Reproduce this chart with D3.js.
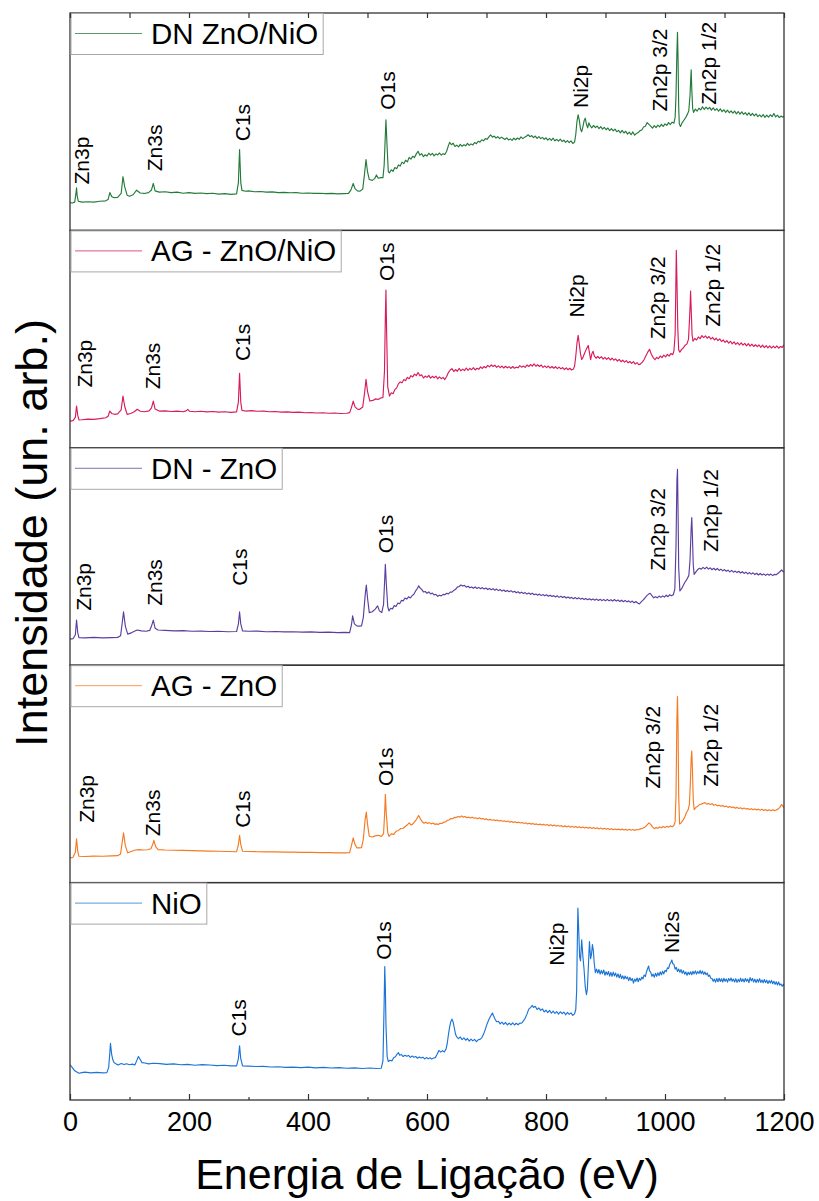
<!DOCTYPE html>
<html><head><meta charset="utf-8">
<script src="https://cdn.jsdelivr.net/npm/d3@7"></script>
<style>html,body{margin:0;padding:0;background:#fff;}svg{display:block;font-family:"Liberation Sans",Arial,sans-serif;}</style>
</head><body>
<svg id="chart" width="819" height="1201"></svg>
<script>
// ---------- DATA ----------
const seriesNames = ["DN ZnO/NiO", "AG - ZnO/NiO", "DN - ZnO", "AG - ZnO", "NiO"];
const seriesColors = ["#237a3b", "#d81b5a", "#5b3f9f", "#f57a22", "#1b74d6"];
const xTicks = [0, 200, 400, 600, 800, 1000, 1200];
const xMinorTicks = [100, 300, 500, 700, 900, 1100];

const dnZnONiO = [[0,12.8],[4,12.6],[8,13.0],[10,17],[11,19.6],[12,16],[14,13.4],[20,13.0],[30,13.2],[40,13.0],[50,13.4],[60,13.6],[64,14.2],[67,17.4],[70,15.6],[74,15.0],[80,15.2],[86,17],[89,24.7],[92,20],[96,16.2],[100,15.7],[106,16.4],[112,18.5],[118,17.2],[125,17.0],[132,17.4],[137,18.6],[140,21.6],[143,18.2],[150,17.6],[160,17.8],[170,17.4],[180,17.6],[190,17.1],[200,17.4],[210,17.0],[220,17.2],[230,16.9],[240,17.1],[250,16.7],[260,16.9],[270,16.6],[280,16.8],[283,22],[285,37.2],[287,22],[289,18.4],[295,18.0],[300,18.2],[310,17.8],[320,17.9],[330,17.6],[340,17.7],[350,17.4],[360,17.5],[370,17.3],[380,17.4],[390,17.1],[400,17.2],[410,17.0],[420,17.1],[430,16.9],[440,17.0],[450,16.8],[460,16.9],[468,17.0],[472,18.5],[476,21.6],[479,19.2],[483,18.2],[487,18.0],[492,19],[495,26],[497.5,32.6],[500,27],[503,23.4],[508,23.0],[512,23.8],[515,25.5],[518,24.0],[522,24.3],[526,24.3],[528,30],[531,50.9],[533,38],[535,27],
[537,26.5],[540,27.9],[543,27.2],[546,28.9],[549,28.4],[552,30.1],[555,29.6],[558,31.4],[561,30.7],[564,32.3],[567,31.5],[570,33.6],[573,32.8],[576,34.1],[579,33.5],[582,35.2],[585,36.4],[588,34.6],[591,35.3],[594,33.9],[597,34.8],[600,34.2],[603,35.5],[606,34.6],[609,35.4],[612,34.3],[615,35.2],[618,34.7],[621,35.6],[624,34.6],[627,35.3],[630,34.9],[633,36.4],[636,39.0],[638,40.5],[641,39.4],[644,40.1],[647,38.6],[650,39.2],[653,38.4],[656,39.6],[659,38.7],[662,39.4],[665,38.9],[668,40.0],[671,39.1],[674,39.8],[677,39.3],[680,40.4],[683,39.9],[686,41.0],[689,40.6],[692,41.7],[695,41.2],[698,42.2],[701,41.9],[704,43.0],[707,43.9],[710,42.9],[713,43.4],[716,42.5],[719,43.1],[722,42.2],[725,42.9],[728,42.4],[731,41.8],[734,42.6],[737,41.6],[740,42.1],[743,41.4],[746,42.4],[749,41.7],[752,42.5],[755,41.9],[758,43.0],[761,42.2],[764,42.8],[767,43.3],[770,44.0],[773,43.1],[776,43.6],[779,42.7],[782,43.4],[785,42.3],[788,43.1],[791,42.2],[794,42.8],[797,41.9],[800,42.6],[803,41.5],[806,42.3],[809,41.4],[812,42.4],[815,41.2],[818,41.9],[821,41.1],[824,42.0],[827,40.9],[830,41.5],[833,40.5],[836,41.3],[839,40.4],[842,41.2],[845,40.0],[848,40.6],[850,44],[852,50],[854,53.2],[856,50.6],[858,46.6],[860,45.4],[862,47.6],[864,50.4],[866,51.6],[868,48.8],[870,47.2],[872,49.5],[874,48.2],[877,47.2],[880,48.3],[883,47.3],[886,48.0],[889,46.8],[892,47.7],[895,46.6],[898,47.4],[901,46.3],[904,47.1],[907,45.9],[910,46.8],[913,45.8],[916,46.6],[919,45.4],[922,46.0],[925,44.9],[928,46.0],[931,44.8],[934,45.6],[937,44.3],[940,45.2],[943,44.0],[946,45.3],[949,43.8],[952,44.6],[955,45.0],[958,45.9],[961,46.2],[964,47.6],[967,47.9],[970,49.6],[973,48.8],[976,48.0],[979,47.0],[982,48.2],[985,47.3],[988,48.4],[991,47.6],[994,48.8],[997,47.8],[1000,49.0],[1003,48.3],[1006,49.6],[1009,48.7],[1012,49.8],[1015,49.3],[1017,52],[1018.5,62],[1020,82],[1021,91.1],[1022,78],[1023,57],[1024,49],[1026,47.8],[1029,49.6],[1032,50.8],[1035,52.0],[1038,53.6],[1040,55],[1042,62],[1043.3,70],[1044,73.9],[1045,65],[1046.5,56],[1048,54.3],[1051,55.8],[1054,54.9],[1057,56.2],[1060,55.4],[1063,56.9],[1066,55.6],[1069,56.7],[1072,55.8],[1075,56.6],[1078,55.3],[1081,56.4],[1084,55.2],[1087,56.0],[1090,54.8],[1093,55.9],[1096,54.6],[1099,55.5],[1102,54.3],[1105,55.3],[1108,54.1],[1111,55.0],[1114,53.9],[1117,54.9],[1120,53.6],[1123,54.7],[1126,53.5],[1129,54.5],[1132,53.4],[1135,54.2],[1138,53.0],[1141,54.1],[1144,52.8],[1147,53.8],[1150,52.7],[1153,53.6],[1156,52.3],[1159,53.1],[1162,52.2],[1165,53.3],[1168,52.0],[1171,53.0],[1174,52.1],[1177,53.2],[1180,52.3],[1183,53.8],[1186,52.2],[1189,53.0],[1192,51.9],[1195,52.6],[1198,52.1],[1200,52.6]];

const agZnONiO = [[0,12.3],[5,12.5],[9,14],[11,19.2],[13,15],[15,12.8],[20,12.9],[30,13.2],[40,13.1],[50,13.4],[60,13.8],[64,14.5],[67,16.9],[70,15.8],[75,15.4],[80,15.6],[86,17.5],[89,23.8],[92,19],[96,15.4],[102,15.8],[108,16.6],[113,17.7],[118,16.8],[125,16.6],[133,17.0],[137,18.4],[140,21.5],[143,17.8],[150,16.9],[160,17.0],[170,16.7],[180,16.9],[190,16.6],[195,17.0],[198,17.7],[201,16.8],[210,16.6],[220,16.8],[230,16.5],[240,16.7],[250,16.4],[260,16.6],[270,16.3],[280,16.5],[283,21],[285,34.3],[287,21],[289,17.2],[295,16.9],[305,17.1],[315,16.8],[325,16.9],[335,16.6],[345,16.7],[355,16.4],[365,16.5],[375,16.3],[385,16.4],[395,16.1],[405,16.2],[415,16.0],[425,16.1],[435,15.9],[445,16.0],[455,15.8],[465,15.9],[470,16.2],[473,18.5],[476,21.5],[479,18.8],[483,17.8],[487,17.7],[492,18.8],[495,25],[497.5,31.5],[500,26],[504,21.5],[509,21.8],[514,22.5],[518,22.2],[522,22.9],[526,23.1],[528.5,35],[530,60],[531,72.6],[532,55],[534,28],
[537,23.8],[540,25.3],[543,24.9],[546,26.8],[549,27.6],[552,29.4],[555,30.3],[558,29.9],[561,31.4],[564,30.9],[567,32.4],[570,31.8],[573,33.2],[576,32.6],[579,33.9],[582,33.2],[585,34.6],[588,33.1],[591,33.6],[594,32.1],[597,33.0],[600,32.4],[603,33.3],[606,32.0],[609,32.9],[612,32.2],[615,33.0],[618,31.7],[621,32.6],[624,31.8],[627,32.4],[630,31.4],[633,32.8],[636,34.6],[639,35.8],[642,36.4],[645,35.1],[648,36.0],[651,35.2],[654,36.5],[657,35.4],[660,36.2],[663,35.5],[666,36.7],[669,35.6],[672,36.5],[675,35.9],[678,36.9],[681,35.8],[684,36.6],[687,36.1],[690,37.2],[693,36.5],[696,37.4],[699,36.8],[702,37.9],[705,37.2],[708,38.1],[711,37.4],[714,38.0],[717,37.0],[720,37.7],[723,36.9],[726,37.6],[729,36.7],[732,37.5],[735,36.8],[738,37.3],[741,36.5],[744,37.4],[747,36.6],[750,37.1],[753,36.8],[756,37.8],[759,37.1],[762,37.6],[765,37.0],[768,38.1],[771,37.4],[774,38.3],[777,37.6],[780,38.6],[783,37.5],[786,38.2],[789,37.4],[792,38.1],[795,37.0],[798,37.7],[801,36.9],[804,37.6],[807,36.7],[810,37.4],[813,36.6],[816,37.3],[819,36.4],[822,37.1],[825,36.3],[828,36.9],[831,36.0],[834,36.8],[837,35.9],[840,36.6],[843,35.8],[846,36.2],[848,37.5],[850,42],[852,48],[854,51.7],[856,47.6],[858,43.2],[860,40.6],[862,41.5],[865,43.6],[868,45.5],[871,47.1],[873,43.8],[875,40.5],[877,43.2],[879,44.4],[881,42.4],[884,41.2],[887,42.0],[890,41.1],[893,41.9],[896,40.8],[899,41.6],[902,40.7],[905,41.5],[908,40.4],[911,41.2],[914,40.3],[917,40.9],[920,39.9],[923,40.7],[926,39.6],[929,40.3],[932,39.4],[935,40.1],[938,39.1],[941,39.7],[944,38.8],[947,39.6],[950,38.5],[953,39.2],[956,38.2],[959,38.6],[962,39.4],[965,40.6],[968,42.3],[971,44.0],[974,45.3],[977,43.0],[980,41.6],[983,40.5],[986,41.6],[989,41.0],[992,42.2],[995,41.5],[998,42.6],[1001,41.8],[1004,43.0],[1007,42.2],[1010,43.4],[1013,42.8],[1015,44.6],[1017,52],[1018,70],[1019,90.8],[1020,78],[1021.5,55],[1023,45],[1025,44.0],[1028,45.3],[1031,46.0],[1034,47.2],[1037,47.8],[1039.5,50],[1041,58],[1042.3,66],[1043,72.1],[1044,64],[1045.5,52],[1047,49.0],[1050,50.3],[1053,49.6],[1056,51.0],[1059,50.2],[1062,51.6],[1065,50.7],[1068,51.5],[1071,50.4],[1074,51.2],[1077,50.0],[1080,50.8],[1083,49.6],[1086,50.4],[1089,49.3],[1092,50.1],[1095,48.9],[1098,49.6],[1101,48.5],[1104,49.3],[1107,48.1],[1110,49.0],[1113,47.8],[1116,48.7],[1119,47.6],[1122,48.4],[1125,47.3],[1128,48.3],[1131,47.2],[1134,48.0],[1137,46.9],[1140,47.9],[1143,46.8],[1146,47.7],[1149,46.6],[1152,47.4],[1155,46.5],[1158,47.3],[1161,46.2],[1164,47.2],[1167,46.1],[1170,47.0],[1173,46.0],[1176,46.9],[1179,45.9],[1182,46.8],[1185,46.0],[1188,46.9],[1191,45.8],[1194,46.6],[1197,46.2],[1200,47.4]];

const dnZnO = [[0,12.0],[5,12.2],[9,14],[11,20.8],[13,15],[15,12.7],[25,12.6],[40,12.8],[55,12.6],[70,12.7],[80,12.8],[85,13.5],[88,20],[90,24.5],[93,18],[97,14.3],[104,15.0],[110,15.8],[113,16.2],[120,15.8],[128,15.6],[134,16.0],[137,18],[140,20.7],[143,17],[148,16.2],[160,16.0],[175,15.8],[190,15.9],[205,15.6],[220,15.7],[235,15.5],[250,15.6],[265,15.4],[280,15.5],[283,19],[285,24.5],[287,19],[290,15.8],[300,15.6],[315,15.7],[330,15.4],[345,15.5],[360,15.3],[375,15.4],[390,15.2],[405,15.3],[420,15.1],[435,15.2],[450,15.0],[462,15.1],[470,15.0],[473,18.5],[475,22.7],[478,19],[482,18.1],[486,18.0],[490,18.1],[493,22],[496,32],[498,36.9],[500,31],[503,24.2],[508,24.6],[513,25.8],[517,27.3],[520,25.0],[524,24.2],[527,28],[529,40],[530,46.4],[531.5,38],[534,27],
[536,25],[539,26.2],[542,25.9],[545,27.4],[548,27.0],[551,28.6],[554,28.3],[557,29.8],[560,29.6],[563,30.9],[566,30.4],[569,31.5],[572,30.9],[575,32.0],[578,32.6],[581,34.2],[584,35.4],[586,36.5],[588,35.6],[591,34.9],[594,33.7],[597,33.9],[600,33.1],[603,33.7],[606,32.8],[609,33.2],[612,32.3],[615,32.6],[618,31.7],[621,32.2],[624,31.9],[627,32.6],[630,32.4],[633,33.1],[636,32.8],[639,33.6],[642,33.6],[645,34.4],[648,34.9],[651,35.9],[654,36.2],[657,36.9],[660,36.4],[663,36.7],[666,35.9],[669,36.3],[672,35.6],[675,36.0],[678,35.4],[681,36.0],[684,35.3],[687,35.8],[690,35.2],[693,35.7],[696,35.0],[699,35.5],[702,34.8],[705,35.3],[708,34.7],[711,35.2],[714,34.5],[717,35.0],[720,34.3],[723,34.8],[726,34.1],[729,34.6],[732,33.9],[735,34.4],[738,33.8],[741,34.3],[744,33.6],[747,34.0],[750,33.3],[753,33.8],[756,33.1],[759,33.6],[762,33.0],[765,33.4],[768,32.7],[771,33.2],[774,32.6],[777,33.1],[780,32.4],[783,32.8],[786,32.2],[789,32.7],[792,32.0],[795,32.5],[798,31.9],[801,32.4],[804,31.7],[807,32.2],[810,31.6],[813,32.0],[816,31.4],[819,31.9],[822,31.2],[825,31.7],[828,31.1],[831,31.6],[834,30.9],[837,31.4],[840,30.8],[843,31.2],[846,30.6],[849,31.1],[852,30.5],[855,31.0],[858,30.4],[861,30.8],[864,30.2],[867,30.7],[870,30.1],[873,30.6],[876,30.0],[879,30.5],[882,29.9],[885,30.4],[888,29.8],[891,30.3],[894,29.7],[897,30.2],[900,29.6],[903,30.3],[906,29.6],[909,30.1],[912,29.5],[915,30.2],[918,29.5],[921,30.0],[924,29.3],[927,29.9],[930,29.2],[933,29.8],[936,29.1],[939,29.6],[942,28.9],[945,29.5],[948,28.7],[951,29.3],[954,28.6],[957,28.2],[960,29.1],[963,29.9],[966,30.8],[969,31.9],[972,32.6],[975,33.1],[978,32.0],[981,31.0],[984,31.5],[987,31.0],[990,31.8],[993,31.2],[996,31.9],[999,31.3],[1002,32.2],[1005,31.5],[1008,32.4],[1011,31.9],[1014,32.4],[1016.5,35],[1018.5,55],[1020,85],[1021,90.1],[1022,70],[1023,45],[1025,34.2],[1028,35.2],[1031,36.9],[1034,38.4],[1037,39.6],[1040,41.2],[1042,48],[1044,63],[1045,67.9],[1046,60],[1047.5,46],[1049,41.8],[1052,42.9],[1055,44.0],[1058,44.6],[1061,44.2],[1064,45.0],[1067,44.3],[1070,45.1],[1073,44.2],[1076,44.8],[1079,43.9],[1082,44.6],[1085,43.8],[1088,44.5],[1091,43.6],[1094,44.2],[1097,43.4],[1100,44.0],[1103,43.2],[1106,43.7],[1109,42.9],[1112,43.6],[1115,42.8],[1118,43.3],[1121,42.6],[1124,43.2],[1127,42.4],[1130,43.0],[1133,42.2],[1136,42.8],[1139,42.0],[1142,42.6],[1145,41.9],[1148,42.5],[1151,41.7],[1154,42.3],[1157,41.5],[1160,42.2],[1163,41.5],[1166,42.0],[1169,41.3],[1172,41.9],[1175,41.4],[1178,41.9],[1181,41.2],[1184,41.8],[1187,41.6],[1190,42.3],[1193,43.0],[1196,43.8],[1198,43.2],[1200,42.8]];

const agZnO = [[0,11.4],[5,11.6],[9,14],[11,20.1],[13,14.5],[15,12.1],[25,12.0],[40,12.2],[55,12.1],[70,12.3],[80,12.4],[85,13.2],[88,19],[90,22.9],[93,17],[97,13.7],[104,14.4],[110,15.0],[116,15.2],[123,15.0],[130,15.1],[136,15.6],[139,17.5],[141,19.4],[144,16.5],[148,15.2],[160,15.0],[175,14.9],[190,14.8],[205,14.7],[220,14.6],[235,14.5],[250,14.4],[265,14.3],[280,14.2],[283,17.5],[285,21.8],[287,17.5],[290,14.4],[300,14.3],[315,14.2],[330,14.1],[345,14.1],[360,14.0],[375,14.0],[390,13.9],[405,13.9],[420,13.8],[435,13.8],[450,13.7],[462,13.7],[470,13.8],[473,17],[476,20.6],[479,17.5],[482,16.0],[486,16.0],[490,16.1],[493,20],[496,29],[498,32.4],[500,27],[503,21.3],[508,21.0],[513,21.5],[519,21.8],[523,21.2],[527,22.5],[529,33],[530,40.6],[531.5,32],[534,23],
[536,21.3],[540,22.4],[544,22.2],[548,23.6],[552,24.0],[556,24.9],[560,25.0],[564,25.9],[567,26.6],[570,27.5],[573,26.5],[576,26.9],[579,27.9],[582,29.0],[586,30.9],[589,29.2],[592,28.0],[595,27.3],[598,27.8],[601,27.2],[604,27.6],[607,27.0],[610,27.4],[613,26.8],[616,27.0],[619,26.7],[622,27.3],[625,27.2],[628,27.8],[631,27.9],[634,28.6],[637,28.8],[640,29.5],[643,29.4],[646,30.0],[649,29.9],[652,30.4],[655,30.1],[658,30.7],[661,30.1],[664,30.4],[667,29.8],[670,30.1],[673,29.7],[676,30.1],[679,29.6],[682,29.8],[685,29.4],[688,29.8],[691,29.3],[694,29.5],[697,29.0],[700,29.3],[703,28.8],[706,29.1],[709,28.7],[712,28.9],[715,28.5],[718,28.8],[721,28.3],[724,28.6],[727,28.2],[730,28.4],[733,28.0],[736,28.3],[739,27.8],[742,28.1],[745,27.7],[748,28.0],[751,27.5],[754,27.8],[757,27.4],[760,27.6],[763,27.2],[766,27.5],[769,27.0],[772,27.3],[775,26.9],[778,27.2],[781,26.7],[784,27.0],[787,26.6],[790,26.9],[793,26.5],[796,26.8],[799,26.4],[802,26.7],[805,26.2],[808,26.6],[811,26.1],[814,26.5],[817,26.0],[820,26.3],[823,25.9],[826,26.2],[829,25.7],[832,26.1],[835,25.6],[838,26.0],[841,25.5],[844,25.9],[847,25.4],[850,25.8],[853,25.3],[856,25.7],[859,25.2],[862,25.6],[865,25.1],[868,25.5],[871,25.0],[874,25.4],[877,24.9],[880,25.3],[883,24.8],[886,25.2],[889,24.7],[892,25.1],[895,24.6],[898,25.0],[901,24.5],[904,24.9],[907,24.4],[910,24.8],[913,24.3],[916,24.7],[919,24.3],[922,24.6],[925,24.2],[928,24.6],[931,24.2],[934,24.5],[937,24.1],[940,24.5],[943,24.1],[946,24.4],[949,24.0],[952,24.4],[955,24.3],[958,24.7],[961,24.8],[964,25.2],[967,25.6],[970,26.6],[973,27.5],[976,26.8],[979,25.6],[982,24.8],[985,25.3],[988,25.0],[991,25.6],[994,25.2],[997,25.8],[1000,25.3],[1003,25.9],[1006,25.5],[1009,26.1],[1012,25.7],[1015,26.3],[1017,28],[1018.5,40],[1020,75],[1021,85.6],[1022,70],[1023,40],[1024.5,27],[1027,27.4],[1030,28.6],[1033,30.0],[1036,32.1],[1039,33.6],[1041,36],[1042.5,45],[1044,57],[1045,60.5],[1046,53],[1047.5,38],[1049,33.6],[1052,34.6],[1055,35.1],[1058,35.9],[1061,36.1],[1064,36.5],[1067,36.8],[1070,36.1],[1073,36.4],[1076,35.9],[1079,36.3],[1082,35.6],[1085,35.9],[1088,35.3],[1091,35.6],[1094,35.1],[1097,35.5],[1100,34.9],[1103,35.2],[1106,34.6],[1109,35.0],[1112,34.5],[1115,34.8],[1118,34.2],[1121,34.6],[1124,34.1],[1127,34.4],[1130,33.9],[1133,34.3],[1136,33.8],[1139,34.1],[1142,33.6],[1145,34.0],[1148,33.5],[1151,33.9],[1154,33.4],[1157,33.8],[1160,33.3],[1163,33.7],[1166,33.2],[1169,33.6],[1172,33.1],[1175,33.5],[1178,33.0],[1181,33.5],[1184,33.1],[1187,33.4],[1190,33.8],[1193,34.6],[1196,35.9],[1198,35.2],[1200,34.5]];

const niO = [[0,16.1],[3,15.2],[8,13.4],[15,12.3],[20,12.6],[25,12.8],[35,12.5],[45,12.7],[55,12.5],[62,12.6],[65,15],[67,22],[68,26.1],[70,21],[72,18.5],[74,17.2],[78,16.5],[81,16.1],[86,16.8],[91,16.3],[95,16.7],[100,16.2],[105,16.5],[109,16.1],[112,18],[115,20],[118,18.6],[121,17.2],[126,17.0],[132,16.6],[140,16.9],[151,16.7],[162,16.4],[174,16.6],[186,16.2],[198,16.4],[210,16.0],[222,16.3],[235,16.1],[247,15.8],[259,16.0],[270,15.7],[280,15.7],[283,19],[285,24.9],[287,19],[290,15.7],[300,15.6],[312,15.4],[325,15.5],[338,15.2],[350,15.3],[362,15.0],[375,15.1],[388,14.9],[400,15.1],[413,14.8],[426,15.0],[439,14.7],[452,14.9],[465,14.6],[478,14.8],[491,14.5],[504,14.7],[515,14.5],[523,14.6],[526,18],[528,45],[529,61.4],[530,52],[531,35],[533,20],
[535,17.7],[538,18.3],[541,18.0],[544,19.4],[547,19.9],[550,21.2],[552,21.8],[554,20.6],[557,20.9],[560,20.0],[563,20.6],[566,20.1],[569,20.5],[572,19.6],[575,20.2],[578,19.7],[581,20.0],[584,19.2],[587,19.8],[590,19.3],[593,19.7],[596,18.9],[599,19.5],[602,19.0],[605,19.4],[608,18.8],[611,19.3],[614,19.5],[617,21.0],[620,22.8],[623,22.0],[626,22.7],[629,22.1],[632,23.4],[634,26],[636,30],[638,33.5],[640,36.0],[642,37.2],[644,35.8],[646,33],[648,30.2],[650,29.0],[653,28.2],[656,29.0],[659,27.8],[662,28.6],[665,27.5],[668,28.3],[671,27.1],[674,28.0],[677,27.2],[680,27.9],[683,26.8],[686,27.7],[689,27.9],[692,28.6],[695,30.2],[698,32.5],[701,35.0],[704,37.0],[707,38.6],[710,40.0],[712,38.6],[714,37.4],[717,36.0],[720,36.2],[723,35.0],[726,35.8],[729,34.8],[732,35.7],[735,34.5],[738,35.4],[741,34.6],[744,35.5],[747,34.5],[750,35.3],[753,34.6],[756,35.4],[759,35.3],[762,36.4],[765,37.6],[768,39.5],[771,41.8],[774,42.5],[777,43.5],[779,42.6],[782,43.1],[785,41.6],[788,42.4],[791,41.2],[794,41.9],[797,40.5],[800,41.3],[803,40.2],[806,41.2],[809,39.9],[812,40.9],[815,39.8],[818,40.7],[821,39.5],[824,40.6],[827,39.7],[830,40.4],[833,39.2],[836,40.3],[839,39.4],[842,40.1],[845,38.9],[848,39.6],[850,41.5],[851.5,50],[852.5,70],[853.6,88.3],[855,78],[856.5,66],[858,64],[860,73.7],[862,66],[864,59.9],[866,52],[868,48.5],[869.5,51],[871,60],[873,72.9],[875,65],[876.5,67],[878,71.5],[879.5,69],[881,63],[883,58.6],[885,60.2],[887,58.4],[889,60.0],[891,57.9],[893,59.6],[895,58.1],[897,59.8],[899,57.4],[901,59.0],[903,57.6],[905,59.1],[907,57.0],[909,58.7],[911,56.9],[913,58.8],[915,57.1],[917,58.4],[919,56.5],[921,58.0],[923,56.2],[925,57.8],[927,55.9],[929,57.1],[931,55.6],[933,57.0],[935,55.8],[937,56.6],[939,54.9],[941,56.4],[943,55.0],[945,55.9],[947,53.8],[949,55.6],[951,54.6],[953,56.1],[955,54.4],[957,56.0],[959,55.1],[961,56.5],[963,55.7],[965,57.5],[967,56.8],[969,59.0],[971,60.6],[972.5,61.6],[974,59.4],[976,58.8],[978,56.9],[980,57.9],[982,56.5],[984,58.3],[986,56.9],[988,58.5],[990,57.2],[992,58.9],[994,57.6],[996,59.2],[998,58.0],[1000,59.6],[1002,59.0],[1004,60.8],[1006,60.5],[1008,62.4],[1010,63.4],[1011.5,64.4],[1013,62.7],[1015,62.4],[1017,60.2],[1019,61.0],[1021,59.1],[1023,60.2],[1025,58.8],[1027,60.0],[1029,58.3],[1031,59.5],[1033,57.9],[1035,58.9],[1037,57.4],[1039,58.8],[1041,57.7],[1043,59.0],[1045,57.6],[1047,59.2],[1049,58.0],[1051,59.4],[1053,57.9],[1055,59.1],[1057,58.2],[1059,59.6],[1061,58.1],[1063,59.3],[1065,57.8],[1067,58.9],[1069,57.6],[1071,58.4],[1073,56.9],[1075,57.4],[1077,56.0],[1079,55.9],[1081,54.6],[1083,55.6],[1085,54.2],[1087,55.9],[1089,54.4],[1091,56.0],[1093,54.5],[1095,55.8],[1097,54.3],[1099,56.0],[1101,54.6],[1103,55.7],[1105,54.2],[1107,55.9],[1109,54.8],[1111,56.1],[1113,54.6],[1115,55.6],[1117,54.3],[1119,55.8],[1121,54.1],[1123,55.5],[1125,54.4],[1127,56.0],[1129,54.5],[1131,55.7],[1133,54.3],[1135,55.9],[1137,54.6],[1139,55.6],[1141,54.0],[1143,56.3],[1145,54.8],[1147,55.9],[1149,54.3],[1151,55.6],[1153,54.0],[1155,55.5],[1157,54.2],[1159,55.8],[1161,54.1],[1163,55.2],[1165,53.9],[1167,55.4],[1169,54.0],[1171,55.1],[1173,53.6],[1175,54.9],[1177,53.8],[1179,55.0],[1181,53.5],[1183,54.6],[1185,53.2],[1187,54.4],[1189,52.9],[1191,54.3],[1193,52.8],[1195,53.4],[1197,52.3],[1199,53.2],[1200,52.6]];

const seriesData = [dnZnONiO, agZnONiO, dnZnO, agZnO, niO];

// peak annotations per panel: [label, energy at text baseline, intensity at text start]
const peakLabels = [
  [["Zn3p",32,21.1],["Zn3s",155,27.2],["C1s",301.7,41],["O1s",546,55.5],["Ni2p",871,56.3],["Zn2p 3/2",1003.6,54.7],["Zn2p 1/2",1085,57.8]],
  [["Zn3p",37.3,27.7],["Zn3s",152,26.9],["C1s",301.7,39.9],["O1s",544,76.7],["Ni2p",863.5,59.9],["Zn2p 3/2",999.7,49.9],["Zn2p 1/2",1093,55.7]],
  [["Zn3p",36,25],["Zn3s",155,27.3],["C1s",297.8,36.5],["O1s",542.5,51.5],["Zn2p 3/2",999.7,43.4],["Zn2p 1/2",1089,52.1]],
  [["Zn3p",40,27.5],["Zn3s",152,21.3],["C1s",301.7,25.2],["O1s",542.5,44.4],["Zn2p 3/2",992.4,43.2],["Zn2p 1/2",1089,44.1]],
  [["C1s",296,29.2],["O1s",538.7,64.5],["Ni2p",830,61.8],["Ni2s",1024,67.6]]
];

// ---------- LAYOUT ----------
const L = 70, R = 784, T = 13, B = 1100;
const nP = seriesNames.length;
const pH = (B - T) / nP;
const svg = d3.select("#chart");
const x = d3.scaleLinear().domain([0, 1200]).range([L, R]);

svg.append("defs").selectAll("clipPath").data(d3.range(nP)).join("clipPath")
  .attr("id", i => "clip" + i)
  .append("rect").attr("x", L).attr("y", i => T + i * pH).attr("width", R - L).attr("height", pH);

for (let i = 0; i < nP; i++) {
  const top = T + i * pH, bot = top + pH;
  const y = d3.scaleLinear().domain([0, 100]).range([bot, top]);
  const g = svg.append("g");
  const line = d3.line().x(d => x(d[0])).y(d => y(d[1]));
  g.append("path").datum(seriesData[i])
    .attr("d", line).attr("fill", "none")
    .attr("stroke", seriesColors[i]).attr("stroke-width", 1.15)
    .attr("stroke-linejoin", "round")
    .attr("clip-path", `url(#clip${i})`);

  g.selectAll("text.pk").data(peakLabels[i]).join("text")
    .attr("class", "pk")
    .attr("transform", d => `translate(${x(d[1])},${y(d[2])}) rotate(-90)`)
    .attr("font-size", 21).attr("fill", "#000")
    .text(d => d[0]);

  g.append("rect").attr("x", L).attr("y", top).attr("width", R - L).attr("height", pH)
    .attr("fill", "none").attr("stroke", "#333").attr("stroke-width", 1.3);

  const lg = svg.append("g");
  const box = lg.append("rect").attr("x", L + 1).attr("y", top + 0.5).attr("height", 41)
    .attr("fill", "#fff").attr("stroke", "#a8a8a8").attr("stroke-width", 1);
  lg.append("line").attr("x1", 75).attr("x2", 142).attr("y1", top + 20.5).attr("y2", top + 20.5)
    .attr("stroke", seriesColors[i]).attr("stroke-width", 1).attr("opacity", 0.75);
  const t = lg.append("text").attr("x", 151).attr("y", top + 31).attr("font-size", 29.5)
    .attr("fill", "#000").text(seriesNames[i]);
  const tw = t.node().getComputedTextLength();
  box.attr("width", 151 + tw + 5 - (L + 1));
}

const topAxis = svg.append("g").attr("transform", `translate(0,${T})`)
  .call(d3.axisTop(x).tickValues(xTicks.concat(xMinorTicks)).tickSize(-5).tickFormat(""));
topAxis.select(".domain").remove();
topAxis.selectAll("line").attr("stroke", "#333").attr("stroke-width", 1.2);

const botMinor = svg.append("g").attr("transform", `translate(0,${B})`)
  .call(d3.axisBottom(x).tickValues(xMinorTicks).tickSize(-3).tickFormat(""));
botMinor.select(".domain").remove();
botMinor.selectAll("line").attr("stroke", "#333").attr("stroke-width", 1.2);
const botAxis = svg.append("g").attr("transform", `translate(0,${B})`)
  .call(d3.axisBottom(x).tickValues(xTicks).tickSize(-6).tickFormat(d3.format("d")));
botAxis.select(".domain").remove();
botAxis.selectAll("line").attr("stroke", "#333").attr("stroke-width", 1.2);
botAxis.selectAll("text").attr("font-size", 27).attr("fill", "#000")
  .attr("font-family", '"Liberation Sans",Arial,sans-serif').attr("dy", null).attr("y", 31);

svg.append("text").attr("x", (L + R) / 2).attr("y", 1189).attr("text-anchor", "middle")
  .attr("font-size", 43).attr("fill", "#000").text("Energia de Ligação (eV)");
svg.append("text").attr("transform", `translate(47,533) rotate(-90)`).attr("text-anchor", "middle")
  .attr("font-size", 45).attr("fill", "#000").text("Intensidade (un. arb.)");
</script>
</body></html>
